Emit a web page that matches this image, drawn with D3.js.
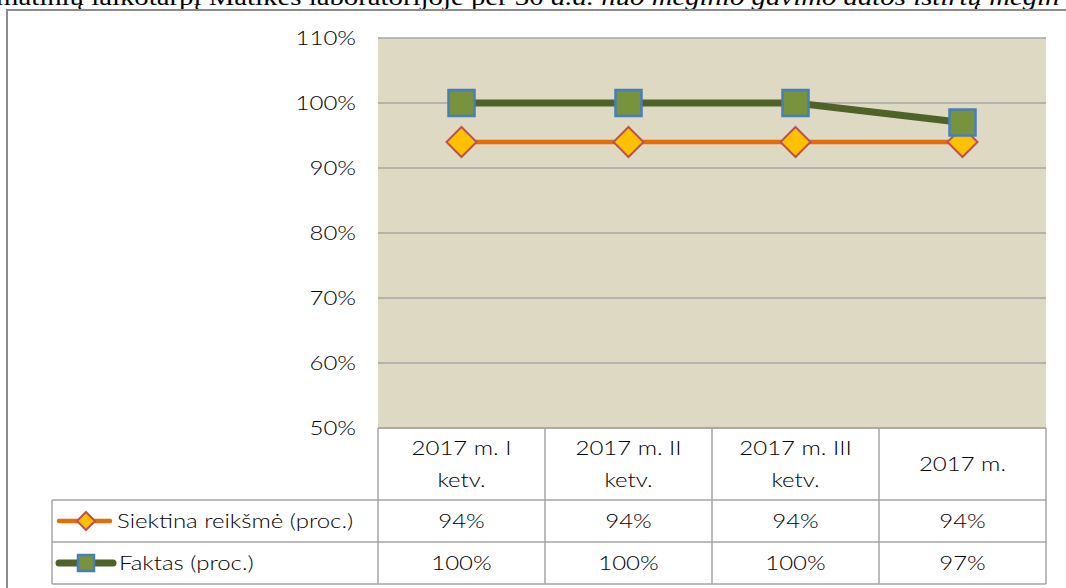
<!DOCTYPE html>
<html>
<head>
<meta charset="utf-8">
<script src="https://cdn.jsdelivr.net/npm/d3@7"></script>
<style>
  body { margin: 0; background: #fff; }
  svg { display: block; }
</style>
</head>
<body>
<div id="chart"></div>
<script>
var width = 1066,
    height = 588;

// data
var categories = [["2017 m. I", "ketv."], ["2017 m. II", "ketv."], ["2017 m. III", "ketv."], ["2017 m."]];
var targetValues = [0.94, 0.94, 0.94, 0.94];
var factValues = [1.00, 1.00, 1.00, 0.97];
var seriesNames = ["Siektina reikšmė (proc.)", "Faktas (proc.)"];
var yTicks = [0.5, 0.6, 0.7, 0.8, 0.9, 1.0, 1.1];

var plot = {left: 378, right: 1046, top: 38, bottom: 428};
var tableLeft = 52,
    rowTops = [428, 500, 542, 584];

var font = "Lato, 'Open Sans', sans-serif";
var gridColor = "#a6a6a6";
var stretch = 1.2; // the text in the picture looks a bit wide

var svg = d3.select("#chart").append("svg")
  .attr("width", width)
  .attr("height", height);

// put a text at (px,py) and widen it a little
function place(sel, px, py) {
  return sel.attr("x", 0).attr("y", 0)
    .attr("transform", "translate(" + px + "," + py + ") scale(" + stretch + ",1)");
}

// cut-off caption line from the page above the chart
var cap = place(svg.append("text"), -4, 5)
  .style("font", "24px 'Liberation Serif', serif")
  .style("fill", "#000");
cap.append("tspan").text("matinių laikotarpį Matikės laboratorijoje per 30 ");
cap.append("tspan").style("font-style", "italic").text("d.d. nuo mėginio gavimo datos ištirtų mėgin");

// outer frame
svg.append("rect")
  .attr("x", 7)
  .attr("y", 10)
  .attr("width", 1080)
  .attr("height", 600)
  .style("fill", "none")
  .style("stroke", "#8c8c8c")
  .style("stroke-width", 2);

var x = d3.scaleBand()
  .domain(d3.range(categories.length))
  .range([plot.left, plot.right])
  .padding(0);

var y = d3.scaleLinear()
  .domain([0.5, 1.1])
  .range([plot.bottom, plot.top]);

var cx = function(i) { return x(i) + x.bandwidth() / 2; };

// plot background
svg.append("rect")
  .attr("x", plot.left)
  .attr("y", plot.top)
  .attr("width", plot.right - plot.left)
  .attr("height", plot.bottom - plot.top)
  .style("fill", "#ddd9c3");

// gridlines
svg.append("g")
  .selectAll("line")
  .data(yTicks)
  .enter()
  .append("line")
  .attr("x1", plot.left)
  .attr("x2", plot.right)
  .attr("y1", function(d) { return y(d); })
  .attr("y2", function(d) { return y(d); })
  .style("stroke", gridColor)
  .style("stroke-width", 1.5);

// y axis labels
var yAxis = svg.append("g")
  .attr("transform", "translate(" + plot.left + ",0)")
  .call(d3.axisLeft(y).tickValues(yTicks).tickFormat(d3.format(".0%")).tickSize(0).tickPadding(22));
yAxis.select(".domain").remove();
yAxis.selectAll("text")
  .attr("x", -22 / stretch)
  .attr("transform", "scale(" + stretch + ",1)")
  .style("font-family", font)
  .style("font-weight", 300)
  .style("font-size", "20px")
  .style("fill", "#000");

// series lines
var line = d3.line()
  .x(function(d, i) { return cx(i); })
  .y(function(d) { return y(d); });

svg.append("path")
  .datum(targetValues)
  .attr("d", line)
  .style("fill", "none")
  .style("stroke", "#e46c0a")
  .style("stroke-width", 4.5);

svg.append("path")
  .datum(factValues)
  .attr("d", line)
  .style("fill", "none")
  .style("stroke", "#4f6228")
  .style("stroke-width", 7);

function diamond(g, px, py, r) {
  g.append("path")
    .attr("d", "M" + px + "," + (py - r) + "L" + (px + r) + "," + py + "L" + px + "," + (py + r) + "L" + (px - r) + "," + py + "Z")
    .style("fill", "#ffc000")
    .style("stroke", "#c0504d")
    .style("stroke-width", 2);
}
function square(g, px, py, s) {
  g.append("rect")
    .attr("x", px - s / 2)
    .attr("y", py - s / 2)
    .attr("width", s)
    .attr("height", s)
    .style("fill", "#77933c")
    .style("stroke", "#4a7ebb")
    .style("stroke-width", 2.5);
}

var marks = svg.append("g");
targetValues.forEach(function(v, i) { diamond(marks, cx(i), y(v), 15); });
factValues.forEach(function(v, i) { square(marks, cx(i), y(v), 26); });

// data table
var table = svg.append("g")
  .style("font-family", font)
  .style("font-weight", 300)
  .style("font-size", "20px");
var tableLine = function(x1, y1, x2, y2) {
  table.append("line")
    .attr("x1", x1).attr("y1", y1).attr("x2", x2).attr("y2", y2)
    .style("stroke", gridColor)
    .style("stroke-width", 1.5);
};

tableLine(plot.left, rowTops[0], plot.right, rowTops[0]);
for (var r = 1; r < rowTops.length; r++) tableLine(tableLeft, rowTops[r], plot.right, rowTops[r]);
tableLine(tableLeft, rowTops[1], tableLeft, rowTops[3]);
d3.range(categories.length + 1).forEach(function(i) {
  var xx = i < categories.length ? x(i) : plot.right;
  tableLine(xx, rowTops[0], xx, rowTops[3]);
});

// category headers
categories.forEach(function(lines, i) {
  var mid = (rowTops[0] + rowTops[1]) / 2;
  var lh = 32;
  lines.forEach(function(t, k) {
    place(table.append("text"), cx(i), mid + (k - (lines.length - 1) / 2) * lh)
      .attr("dy", "0.35em")
      .attr("text-anchor", "middle")
      .style("fill", "#000")
      .text(t);
  });
});

// value rows
var fmt = d3.format(".0%");
[targetValues, factValues].forEach(function(vals, r) {
  var mid = (rowTops[r + 1] + rowTops[r + 2]) / 2;
  vals.forEach(function(v, i) {
    place(table.append("text"), cx(i), mid)
      .attr("dy", "0.35em")
      .attr("text-anchor", "middle")
      .style("fill", "#000")
      .text(fmt(v));
  });
});

// legend keys in the table
var ly0 = (rowTops[1] + rowTops[2]) / 2,
    ly1 = (rowTops[2] + rowTops[3]) / 2;
table.append("line").attr("x1", 59).attr("x2", 110).attr("y1", ly0).attr("y2", ly0)
  .style("stroke", "#e46c0a").style("stroke-width", 4.5).style("stroke-linecap", "round");
diamond(table, 86, ly0, 9);
table.append("line").attr("x1", 59).attr("x2", 113).attr("y1", ly1).attr("y2", ly1)
  .style("stroke", "#4f6228").style("stroke-width", 7).style("stroke-linecap", "round");
square(table, 86, ly1, 16);

seriesNames.forEach(function(n, r) {
  place(table.append("text"), r === 0 ? 117 : 119, r === 0 ? ly0 : ly1)
    .attr("dy", "0.35em")
    .style("fill", "#000")
    .text(n);
});
</script>
</body>
</html>
